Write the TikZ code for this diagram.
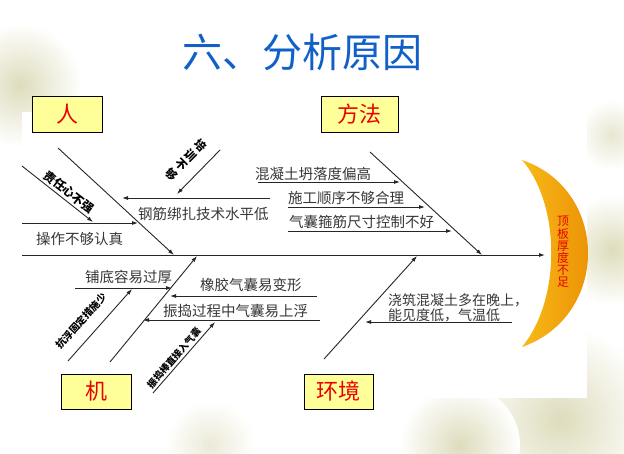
\documentclass[tikz,border=0pt]{standalone}
\usepackage{fontspec}
\setmainfont{Noto Sans CJK SC}
\usetikzlibrary{arrows.meta}
\definecolor{titleblue}{RGB}{16,96,200}
\definecolor{boxyellow}{RGB}{255,255,153}
\definecolor{labred}{RGB}{235,0,0}
\definecolor{txtgray}{RGB}{55,55,55}
\definecolor{bgbeige}{RGB}{222,220,188}
\definecolor{headorange}{RGB}{246,168,30}
\definecolor{headdark}{RGB}{232,135,0}
\begin{document}
\begin{tikzpicture}[x=1pt,y=-1pt,
  catbox/.style={draw=black, line width=0.9pt, fill=boxyellow, minimum height=36pt, inner sep=0pt, text=labred, font=\fontsize{22}{22}\selectfont},
  bone/.style={draw=black!85, line width=0.9pt, -{Latex[length=6pt,width=4pt]}},
  cause/.style={text=txtgray, font=\fontsize{14.5}{14.5}\selectfont, inner sep=0pt, anchor=west},
  rottext/.style={text=black, font=\bfseries\fontsize{12}{13}\selectfont, inner sep=0pt, align=center},
]
\useasboundingbox (0,0) rectangle (624,453);
% background texture
\fill[white] (0,0) rectangle (624,453);
\shade[inner color=bgbeige, outer color=white] (20,85) circle (62);
\shade[inner color=bgbeige, outer color=white] (560,420) circle (95);
\shade[inner color=bgbeige, outer color=white] (612,250) circle (55);
\shade[inner color=bgbeige, outer color=white] (460,445) circle (60);
\shade[inner color=bgbeige!60, outer color=white] (210,445) circle (45);
\shade[inner color=bgbeige!70, outer color=white] (612,135) circle (35);
% white panel
\fill[white] (22,112) rectangle (587,398);

% title
\node[text=titleblue, font=\fontsize{40}{40}\selectfont, inner sep=0pt] (title) at (302,52) {六、分析原因};

% head (crescent)
\path[left color=headorange!80!yellow, right color=headdark]
  (522,160) .. controls (610,190) and (610,316) .. (522,347)
  .. controls (561,300) and (561,205) .. cycle;
\node[text=labred, font=\fontsize{12}{12.2}\selectfont, inner sep=0pt, align=center] (head) at (563,252) {顶\\板\\厚\\度\\不\\足};

% coordinates
\coordinate (sp0) at (22,255);
\coordinate (sp1) at (545,255);
\coordinate (rA) at (58,148);   \coordinate (rB) at (174,255);
\coordinate (zA) at (22,166);   \coordinate (zB) at (93,222);
\coordinate (pA) at (220,150);  \coordinate (pB) at (177,194);
\coordinate (cA) at (22,223);   \coordinate (cB) at (138,223);
\coordinate (gA) at (270,198);  \coordinate (gB) at (122,198);
\coordinate (fA) at (370,152);  \coordinate (fB) at (482,255);
\coordinate (t1A) at (258,182); \coordinate (t1B) at (400,182);
\coordinate (t2A) at (288,207); \coordinate (t2B) at (425,207);
\coordinate (t3A) at (288,231); \coordinate (t3B) at (452,231);
\coordinate (m1A) at (68,361);  \coordinate (m1B) at (132,289);
\coordinate (m2A) at (110,362); \coordinate (m2B) at (197,256);
\coordinate (m3A) at (153,393); \coordinate (m3B) at (215,322);
\coordinate (b1A) at (75,288);  \coordinate (b1B) at (172,288);
\coordinate (b2A) at (317,296); \coordinate (b2B) at (170,296);
\coordinate (b3A) at (320,320); \coordinate (b3B) at (143,320);
\coordinate (eA) at (324,359);  \coordinate (eB) at (417,256);
\coordinate (e1A) at (512,322); \coordinate (e1B) at (365,322);

% spine and bones
\draw[bone] (sp0) -- (sp1);
\draw[bone] (rA) -- (rB);
\draw[bone] (zA) -- (zB);
\draw[bone] (pA) -- (pB);
\draw[bone] (cA) -- (cB);
\draw[bone] (gA) -- (gB);
\draw[bone] (fA) -- (fB);
\draw[bone] (t1A) -- (t1B);
\draw[bone] (t2A) -- (t2B);
\draw[bone] (t3A) -- (t3B);
\draw[bone] (m1A) -- (m1B);
\draw[bone] (m2A) -- (m2B);
\draw[bone] (m3A) -- (m3B);
\draw[bone] (b1A) -- (b1B);
\draw[bone] (b2A) -- (b2B);
\draw[bone] (b3A) -- (b3B);
\draw[bone] (eA) -- (eB);
\draw[bone] (e1A) -- (e1B);

% category boxes
\node[catbox, minimum width=70pt] (ren) at (67,114) {人};
\node[catbox, minimum width=77pt] (fangfa) at (359.5,114) {方法};
\node[catbox, minimum width=70pt, minimum height=35pt] (ji) at (96,391.5) {机};
\node[catbox, minimum width=69pt, minimum height=35pt] (huanjing) at (338.5,391.5) {环境};

% cause texts
\node[cause] (c1) at (36,239) {操作不够认真};
\node[cause] (c2) at (138,214) {钢筋绑扎技术水平低};
\node[cause] (c3) at (255,174) {混凝土坍落度偏高};
\node[cause] (c4) at (288,198) {施工顺序不够合理};
\node[cause] (c5) at (289,222) {气囊箍筋尺寸控制不好};
\node[cause] (c6) at (85,277) {铺底容易过厚};
\node[cause] (c7) at (200,285) {橡胶气囊易变形};
\node[cause] (c8) at (163,311) {振捣过程中气囊易上浮};
\node[cause, font=\fontsize{14}{14}\selectfont] (c9) at (388,300) {浇筑混凝土多在晚上，};
\node[cause, font=\fontsize{14}{14}\selectfont] (c10) at (388,315) {能见度低，气温低};

% rotated texts
\node[rottext, rotate=-38] (r1) at (69,192) {责任心不强};
\node[rottext, font=\bfseries\fontsize{11.5}{13.5}\selectfont, rotate=-45] (r2) at (186,160) {培\\训\\不\\够};
\node[rottext, font=\bfseries\fontsize{10}{10}\selectfont, rotate=48] (r3) at (81,321) {抗浮固定措施少};
\node[rottext, font=\bfseries\fontsize{9.5}{10}\selectfont, rotate=49] (r4) at (174,358) {振捣棒直接入气囊};
\end{tikzpicture}
\end{document}
